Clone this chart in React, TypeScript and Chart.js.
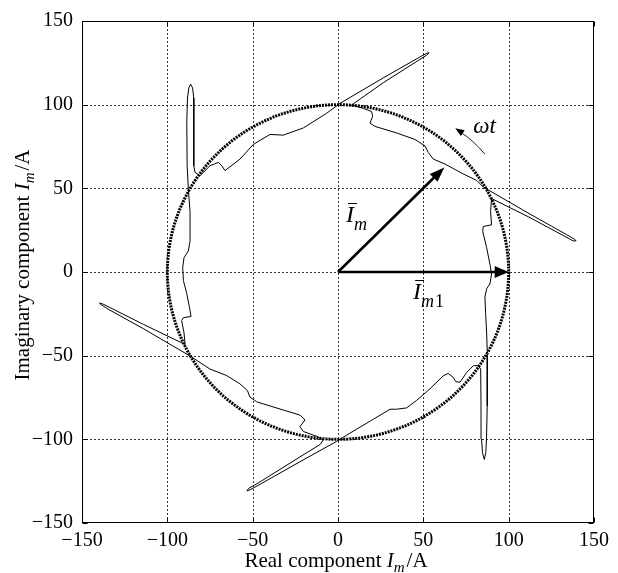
import React, { useEffect, useRef } from "react";
import { Chart, registerables } from "chart.js";

Chart.register(...registerables);

// ---------------- data ----------------
const AXIS_MIN = -150;
const AXIS_MAX = 150;
const TICK_VALUES = [-150, -100, -50, 0, 50, 100, 150];

// measured current trajectory (real / imaginary parts, A)
const REAL_PART = [
  -89.6, -90.2, -91.6, -90.6, -86.1, -87.1, -88.6, -90.6, -91.0, -90.2, -87.7, -86.7, -86.7, -87.7,
  -88.4, -88.6, -88.2, -87.4, -86.3, -85.2, -84.5, -84.4, -84.6, -83.8,
  -80.8, -75.0, -70.1, -68.1, -66.2, -57.4, -49.6, -39.8, -32.0, -20.3, -6.6, 1.2,
  26.5, 48.0, 52.0, 53.4, 51.8, 26.5, 8.0,
  14.8, 19.7, 20.3, 18.7, 21.7, 34.4, 45.1, 51.0, 52.9, 55.8, 62.7, 73.4, 81.3, 85.1,
  112.5, 134.0, 138.6, 139.5, 137.8, 112.5, 90.0,
  89.4, 90.0, 85.1, 84.8, 87.1, 89.0, 90.0, 89.0, 87.1, 86.1, 86.5, 87.1, 87.5,
  87.5, 87.4, 87.0, 86.6, 85.7, 84.7, 84.1, 83.8, 83.6, 82.2,
  79.3, 75.4, 71.5, 69.0, 67.5, 64.6, 61.7, 53.9, 46.1, 40.2, 34.4, 30.5, 20.7, 7.0, -0.8,
  -22.3, -45.0, -51.6, -53.4, -52.3, -45.0, -22.3, -10.5,
  -8.6, -12.5, -20.3, -22.3, -19.3, -22.3, -32.0, -47.6, -51.6, -53.1, -57.4, -65.2, -75.0, -86.7,
  -114.0, -134.0, -139.0, -139.8, -137.8, -114.0, -89.6,
];
const IMAG_PART = [
  -43.3, -36.5, -29.0, -27.3, -26.6, -20.8, -12.9, -5.1, 2.7, 8.6, 12.5, 18.4, 36.1, 49.8,
  63.5, 90.0, 104.0, 110.0, 112.2, 110.0, 104.0, 90.0, 63.5, 59.6,
  57.6, 63.5, 65.5, 63.5, 60.6, 67.5, 76.3, 82.2, 81.8, 86.1, 94.9, 100.8,
  116.0, 128.5, 130.7, 131.0, 129.5, 113.1, 99.8,
  97.8, 95.9, 92.9, 89.0, 87.0, 83.1, 79.2, 75.3, 71.4, 67.5, 64.5, 58.6, 54.7, 50.8,
  34.6, 22.3, 19.6, 18.6, 18.6, 32.5, 43.9,
  36.0, 28.2, 27.2, 24.3, 14.5, 4.7, -1.2, -7.1, -10.0, -14.9, -24.7, -36.5, -49.2,
  -56.0, -80.0, -100.0, -108.0, -112.0, -108.0, -100.0, -80.0, -58.0, -56.0,
  -56.0, -60.0, -65.9, -65.5, -63.0, -60.6, -62.0, -69.8, -76.7, -81.2, -82.0, -82.0, -88.0, -96.3, -101.2,
  -113.4, -126.5, -130.2, -130.8, -129.3, -125.0, -110.5, -103.1,
  -100.4, -98.2, -95.3, -92.4, -88.4, -85.5, -82.5, -77.6, -74.7, -70.8, -66.9, -61.9, -58.0, -50.2,
  -33.9, -22.6, -19.4, -18.6, -19.1, -31.3, -43.3,
];

// reference circle (fundamental locus)
const CIRCLE_CENTER = [0, 0];
const CIRCLE_RADIUS = 100;

// phasors: [start re, start im, end re, end im]
const PHASOR_IM = [0, 0, 62.3, 62.5];
const PHASOR_IM1 = [0, 0, 100, 0];
// rotation hint arrow
const OMEGA_ARROW = [86.1, 70.4, 68.7, 85.9];

// label anchors (re, im)
const LABEL_IM_POS = [4.7, 30.0];
const LABEL_IM1_POS = [44.0, -16.0];
const LABEL_WT_POS = [79.3, 83.0];

const X_TITLE = ["Real component ", "I", "m", "/A"];
const Y_TITLE = ["Imaginary component ", "I", "m", "/A"];

// ---------------- drawing helpers ----------------
const SERIF = '"Liberation Serif", "Times New Roman", Times, serif';

type Part = { t: string; italic?: boolean; size: number; dy?: number; gap?: number };

function richWidth(ctx: CanvasRenderingContext2D, parts: Part[]) {
  let w = 0;
  for (const p of parts) {
    ctx.font = `${p.italic ? "italic " : ""}${p.size}px ${SERIF}`;
    w += ctx.measureText(p.t).width + (p.gap || 0);
  }
  return w;
}

function drawRich(ctx: CanvasRenderingContext2D, parts: Part[], x: number, y: number) {
  let cx = x;
  ctx.textBaseline = "alphabetic";
  ctx.textAlign = "left";
  for (const p of parts) {
    ctx.font = `${p.italic ? "italic " : ""}${p.size}px ${SERIF}`;
    ctx.fillText(p.t, cx, y + (p.dy || 0));
    cx += ctx.measureText(p.t).width + (p.gap || 0);
  }
}

function titleParts(t: string[]): Part[] {
  return [
    { t: t[0], size: 21 },
    { t: t[1], italic: true, size: 21 },
    { t: t[2], italic: true, size: 15, dy: 5, gap: 2 },
    { t: t[3], size: 21 },
  ];
}

function arrow(
  ctx: CanvasRenderingContext2D,
  x0: number, y0: number, x1: number, y1: number,
  width: number, headLen: number, headHalf: number
) {
  const ang = Math.atan2(y1 - y0, x1 - x0);
  const bx = x1 - headLen * Math.cos(ang);
  const by = y1 - headLen * Math.sin(ang);
  ctx.lineWidth = width;
  ctx.beginPath();
  ctx.moveTo(x0, y0);
  ctx.lineTo(bx + 1 * Math.cos(ang), by + 1 * Math.sin(ang));
  ctx.stroke();
  ctx.beginPath();
  ctx.moveTo(x1, y1);
  ctx.lineTo(bx + headHalf * Math.sin(ang), by - headHalf * Math.cos(ang));
  ctx.lineTo(bx - headHalf * Math.sin(ang), by + headHalf * Math.cos(ang));
  ctx.closePath();
  ctx.fill();
}

function barLabel(
  ctx: CanvasRenderingContext2D, x: number, y: number, sub: string, subNum: string
) {
  const parts: Part[] = [
    { t: "I", italic: true, size: 24, gap: 0 },
    { t: sub, italic: true, size: 18, dy: 8, gap: 1 },
    { t: subNum, italic: false, size: 18, dy: 8 },
  ];
  drawRich(ctx, parts, x, y);
  ctx.font = `italic 24px ${SERIF}`;
  const w = ctx.measureText("I").width;
  ctx.lineWidth = 1;
  ctx.beginPath();
  ctx.moveTo(x + 2, Math.round(y - 19) + 0.5);
  ctx.lineTo(x + w + 3, Math.round(y - 19) + 0.5);
  ctx.stroke();
}

const decorPlugin = {
  id: "decor",
  beforeDatasetsDraw(chart: any) {
    const { ctx, chartArea: a, scales } = chart;
    const x = scales.x, y = scales.y;
    ctx.save();
    // dotted grid
    ctx.strokeStyle = "#333";
    ctx.lineWidth = 1;
    ctx.setLineDash([2, 2]);
    for (const v of TICK_VALUES) {
      if (v === AXIS_MIN || v === AXIS_MAX) continue;
      const px = Math.round(x.getPixelForValue(v)) + 0.5;
      ctx.beginPath();
      ctx.moveTo(px, a.top);
      ctx.lineTo(px, a.bottom);
      ctx.stroke();
      const py = Math.round(y.getPixelForValue(v)) + 0.5;
      ctx.beginPath();
      ctx.moveTo(a.left, py);
      ctx.lineTo(a.right, py);
      ctx.stroke();
    }
    // thick dotted circle
    const cx = x.getPixelForValue(CIRCLE_CENTER[0]);
    const cy = y.getPixelForValue(CIRCLE_CENTER[1]);
    const rx = Math.abs(x.getPixelForValue(CIRCLE_CENTER[0] + CIRCLE_RADIUS) - cx);
    const ry = Math.abs(y.getPixelForValue(CIRCLE_CENTER[1] + CIRCLE_RADIUS) - cy);
    ctx.setLineDash([2, 1]);
    ctx.lineWidth = 3;
    ctx.strokeStyle = "#000";
    ctx.beginPath();
    ctx.ellipse(cx, cy, rx, ry, 0, 0, Math.PI * 2);
    ctx.stroke();
    ctx.restore();
  },
  afterDatasetsDraw(chart: any) {
    const { ctx, chartArea: a, scales } = chart;
    const x = scales.x, y = scales.y;
    const X = (v: number) => x.getPixelForValue(v);
    const Y = (v: number) => y.getPixelForValue(v);
    ctx.save();
    ctx.setLineDash([]);
    ctx.strokeStyle = "#000";
    ctx.fillStyle = "#000";

    // phasors
    arrow(ctx, X(PHASOR_IM[0]), Y(PHASOR_IM[1]), X(PHASOR_IM[2]), Y(PHASOR_IM[3]), 2.6, 15, 5.5);
    arrow(ctx, X(PHASOR_IM1[0]), Y(PHASOR_IM1[1]), X(PHASOR_IM1[2]), Y(PHASOR_IM1[3]), 2.6, 14, 6);

    // omega t hint arrow (slightly curved)
    {
      const x0 = X(OMEGA_ARROW[0]), y0 = Y(OMEGA_ARROW[1]);
      const x1 = X(OMEGA_ARROW[2]), y1 = Y(OMEGA_ARROW[3]);
      const mx = (x0 + x1) / 2 + 2, my = (y0 + y1) / 2 - 2;
      ctx.lineWidth = 0.9;
      ctx.beginPath();
      ctx.moveTo(x0, y0);
      ctx.quadraticCurveTo(mx, my, x1 + 6, y1 + 4.5);
      ctx.stroke();
      const ang = Math.atan2(y1 - my, x1 - mx);
      const bx = x1 - 9 * Math.cos(ang), by = y1 - 9 * Math.sin(ang);
      ctx.beginPath();
      ctx.moveTo(x1, y1);
      ctx.lineTo(bx + 3.5 * Math.sin(ang), by - 3.5 * Math.cos(ang));
      ctx.lineTo(bx - 3.5 * Math.sin(ang), by + 3.5 * Math.cos(ang));
      ctx.closePath();
      ctx.fill();
    }

    // labels
    barLabel(ctx, X(LABEL_IM_POS[0]), Y(LABEL_IM_POS[1]), "m", "");
    barLabel(ctx, X(LABEL_IM1_POS[0]), Y(LABEL_IM1_POS[1]), "m", "1");
    ctx.font = `italic 23px ${SERIF}`;
    ctx.textAlign = "left";
    ctx.textBaseline = "alphabetic";
    ctx.fillText("\u03C9t", X(LABEL_WT_POS[0]), Y(LABEL_WT_POS[1]));

    // frame
    ctx.lineWidth = 1;
    const L = Math.round(a.left) + 0.5, R = Math.round(a.right) - 0.5;
    const T = Math.round(a.top) + 0.5, B = Math.round(a.bottom) - 0.5;
    ctx.strokeRect(L, T, R - L, B - T);
    // inward ticks
    ctx.beginPath();
    for (const v of TICK_VALUES) {
      const px = Math.round(X(v)) + 0.5;
      ctx.moveTo(px, B); ctx.lineTo(px, B - 5);
      ctx.moveTo(px, T); ctx.lineTo(px, T + 5);
      const py = Math.round(Y(v)) + 0.5;
      ctx.moveTo(L, py); ctx.lineTo(L + 5, py);
      ctx.moveTo(R, py); ctx.lineTo(R - 5, py);
    }
    ctx.stroke();

    // axis titles
    const xp = titleParts(X_TITLE);
    const xw = richWidth(ctx, xp);
    drawRich(ctx, xp, (a.left + a.right) / 2 - 2 - xw / 2, a.bottom + 44);

    const yp = titleParts(Y_TITLE);
    const yw = richWidth(ctx, yp);
    ctx.translate(a.left - 53, (a.top + a.bottom) / 2 - 7);
    ctx.rotate(-Math.PI / 2);
    drawRich(ctx, yp, -yw / 2, 0);
    ctx.restore();
  },
};

const fmt = (v: number | string) => {
  const n = Number(v);
  return n < 0 ? "\u2212" + Math.abs(n) : String(n);
};

export default function App() {
  const ref = useRef<HTMLCanvasElement | null>(null);

  useEffect(() => {
    if (!ref.current) return;
    const points = REAL_PART.map((re, i) => ({ x: re, y: IMAG_PART[i] }));
    const chart = new Chart(ref.current, {
      type: "scatter",
      data: {
        datasets: [
          {
            data: points,
            showLine: true,
            borderColor: "#000",
            borderWidth: 1,
            pointRadius: 0,
            tension: 0,
            fill: false,
          },
        ],
      },
      options: {
        responsive: false,
        animation: false,
        events: [],
        layout: { padding: { top: 13, right: 24, left: 0, bottom: 0 } },
        plugins: { legend: { display: false }, tooltip: { enabled: false }, title: { display: false } },
        scales: {
          x: {
            type: "linear",
            min: AXIS_MIN,
            max: AXIS_MAX,
            afterBuildTicks: (s: any) => {
              s.ticks = TICK_VALUES.map((v) => ({ value: v }));
            },
            afterFit: (s: any) => {
              s.height = 50;
            },
            ticks: {
              callback: (v: any) => fmt(v),
              font: { family: SERIF, size: 20 },
              color: "#000",
              padding: 6,
              maxRotation: 0,
              autoSkip: false,
            },
            grid: { display: false, drawTicks: false },
            border: { display: false },
          },
          y: {
            type: "linear",
            min: AXIS_MIN,
            max: AXIS_MAX,
            afterBuildTicks: (s: any) => {
              s.ticks = TICK_VALUES.map((v) => ({ value: v }));
            },
            afterFit: (s: any) => {
              s.width = 82;
            },
            ticks: {
              callback: (v: any) => fmt(v),
              font: { family: SERIF, size: 20 },
              color: "#000",
              padding: 9,
              autoSkip: false,
            },
            grid: { display: false, drawTicks: false },
            border: { display: false },
          },
        },
      },
      plugins: [decorPlugin],
    } as any);
    return () => chart.destroy();
  }, []);

  return (
    <div style={{ position: "absolute", left: 0, top: 0, width: 618, height: 573, background: "#fff" }}>
      <canvas ref={ref} width={618} height={573} style={{ display: "block" }} />
    </div>
  );
}
